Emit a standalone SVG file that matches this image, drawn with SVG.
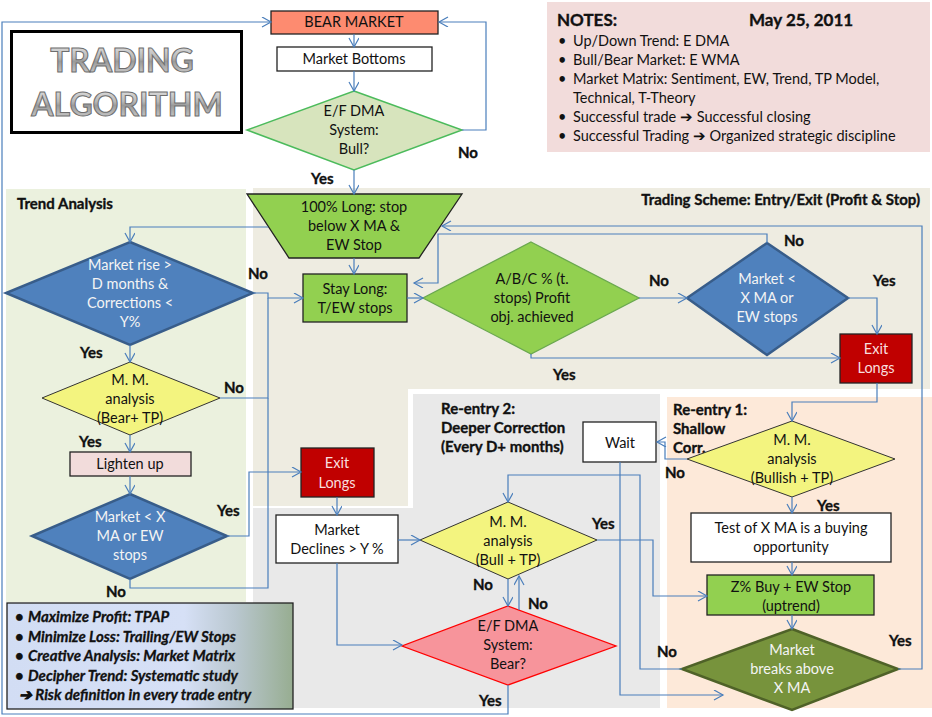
<svg xmlns="http://www.w3.org/2000/svg" width="932" height="717" viewBox="0 0 932 717">
<defs>
<marker id="arr" markerUnits="userSpaceOnUse" markerWidth="12" markerHeight="12" refX="10" refY="5" orient="auto">
<path d="M1,0 L10,5 L1,10" fill="none" stroke="#4a7ebb" stroke-width="1.2"/>
</marker>
<linearGradient id="boxg" x1="0" y1="0" x2="1" y2="0">
<stop offset="0" stop-color="#d2ddf4"/>
<stop offset="0.62" stop-color="#d6e0f6"/>
<stop offset="0.8" stop-color="#b9c7cf"/>
<stop offset="1" stop-color="#97ad91"/>
</linearGradient>
<linearGradient id="metal" x1="0" y1="0" x2="0" y2="1">
<stop offset="0" stop-color="#f0f0f0"/>
<stop offset="0.45" stop-color="#b8b8b8"/>
<stop offset="0.55" stop-color="#9a9a9a"/>
<stop offset="1" stop-color="#dcdcdc"/>
</linearGradient>
<style>
text{font-family:Lato,"Liberation Sans",sans-serif;font-size:14.5px;fill:#111}
.c{text-anchor:middle}
.b{font-weight:bold;font-size:15px;stroke:#111;stroke-width:0.35}
.w{fill:#f4f4f4}
.pw{fill:#f8dede}
.bi{font-weight:bold;font-style:italic;font-size:15px;stroke:#111;stroke-width:0.3}
.box{stroke:#222;stroke-width:1.3}
.white{fill:#fff}
.grn{fill:#92d050}
.blue{fill:#4f81bd;stroke:#385d8a;stroke-width:2.5}
.yel{fill:#f3f47f;stroke:#333;stroke-width:1}
.conn path{fill:none;stroke:#4a7ebb;stroke-width:1.2}
.conn .a{marker-end:url(#arr)}
</style>
</defs>

<g id="panels">
<rect x="6" y="189" width="240" height="413" fill="#ebf1de"/>
<path d="M253,188 H930 V389 H408 V506 H253 Z" fill="#eeece1"/>
<path d="M253,508 H413 V394 H660 V708 H253 Z" fill="#e9e9e9"/>
<rect x="667" y="397" width="265" height="311" fill="#fde9d9"/>
</g>

<g id="title">
<rect x="11.5" y="31.5" width="230" height="101" fill="#fff" stroke="#000" stroke-width="3"/>
<text x="122" y="72" class="c" style="font-size:32px;font-weight:bold;fill:url(#metal);stroke:#6e6e6e;stroke-width:1">TRADING</text>
<text x="127" y="116" class="c" style="font-size:32px;font-weight:bold;fill:url(#metal);stroke:#6e6e6e;stroke-width:1">ALGORITHM</text>
</g>

<g id="notes">
<rect x="547" y="2" width="383" height="150" fill="#f2dcdb"/>
<text x="557" y="26" style="font-weight:bold;font-size:17px;stroke:#111;stroke-width:0.35">NOTES:</text>
<text x="749" y="26" style="font-weight:bold;font-size:17px;stroke:#111;stroke-width:0.35">May 25, 2011</text>
<text x="558" y="46">•</text><text x="573" y="46">Up/Down Trend: E DMA</text>
<text x="558" y="65">•</text><text x="573" y="65">Bull/Bear Market: E WMA</text>
<text x="558" y="84">•</text><text x="573" y="84">Market Matrix: Sentiment, EW, Trend, TP Model,</text>
<text x="573" y="103">Technical, T-Theory</text>
<text x="558" y="122">•</text><text x="573" y="122">Successful trade ➔ Successful  closing</text>
<text x="558" y="141">•</text><text x="573" y="141">Successful Trading ➔ Organized strategic discipline</text>
</g>

<g id="panel-labels">
<text x="17" y="209" class="b">Trend Analysis</text>
<text x="920" y="205" class="b" style="text-anchor:end">Trading Scheme: Entry/Exit (Profit &amp; Stop)</text>
<text x="441" y="414" class="b">Re-entry 2:</text>
<text x="441" y="433" class="b">Deeper Correction</text>
<text x="441" y="452" class="b">(Every D+ months)</text>
<text x="673" y="415" class="b">Re-entry 1:</text>
<text x="673" y="434" class="b">Shallow</text>
<text x="673" y="453" class="b">Corr.</text>
</g>

<g id="bear-market">
<rect x="271" y="11" width="167" height="23" fill="#fd8b70" class="box"/>
<text x="354" y="27" class="c">BEAR MARKET</text>
</g>
<g id="market-bottoms">
<rect x="277" y="47" width="155" height="24" class="box white"/>
<text x="354" y="64" class="c">Market Bottoms</text>
</g>
<g id="bull-decision">
<polygon points="354,91 462,130 354,170 247,130" fill="#d7e4bd" stroke="#4cbb5c" stroke-width="1.5"/>
<text x="354" y="116" class="c">E/F DMA</text>
<text x="354" y="135" class="c">System:</text>
<text x="354" y="154" class="c">Bull?</text>
</g>
<g id="long-100">
<polygon points="247,194 462,194 419,258 289,258" class="grn box"/>
<text x="354" y="212" class="c">100% Long: stop</text>
<text x="354" y="231" class="c">below X MA &amp;</text>
<text x="354" y="250" class="c">EW Stop</text>
</g>
<g id="stay-long">
<rect x="303" y="274" width="104" height="48" class="grn box"/>
<text x="355" y="294" class="c">Stay Long:</text>
<text x="355" y="313" class="c">T/EW stops</text>
</g>
<g id="profit-decision">
<polygon points="531,242 639,298 531,354 423,298" fill="#92d050" stroke="#6aa84f" stroke-width="1.3"/>
<text x="532" y="284" class="c">A/B/C % (t.</text>
<text x="532" y="303" class="c">stops) Profit</text>
<text x="532" y="322" class="c">obj. achieved</text>
</g>
<g id="market-xma-right">
<polygon points="767,243 848,298 767,355 687,298" class="blue"/>
<text x="767" y="284" class="c w">Market &lt;</text>
<text x="767" y="303" class="c w">X MA or</text>
<text x="767" y="322" class="c w">EW stops</text>
</g>
<g id="exit-longs-right">
<rect x="840" y="334" width="72" height="49" fill="#c00000" class="box"/>
<text x="876" y="354" class="c pw">Exit</text>
<text x="876" y="373" class="c pw">Longs</text>
</g>

<g id="market-rise">
<polygon points="130,242 253,293 130,345 6,293" class="blue"/>
<text x="130" y="270" class="c w">Market rise &gt;</text>
<text x="130" y="289" class="c w">D months &amp;</text>
<text x="130" y="308" class="c w">Corrections &lt;</text>
<text x="130" y="327" class="c w">Y%</text>
</g>
<g id="mm-bear">
<polygon points="130,362 220,398 130,435 42,398" class="yel"/>
<text x="130" y="385" class="c">M. M.</text>
<text x="130" y="404" class="c">analysis</text>
<text x="130" y="423" class="c">(Bear+ TP)</text>
</g>
<g id="lighten-up">
<rect x="70" y="452" width="121" height="24" fill="#f2dcdb" class="box"/>
<text x="130" y="469" class="c">Lighten up</text>
</g>
<g id="market-xma-left">
<polygon points="130,494 227,536 130,579 32,536" class="blue"/>
<text x="130" y="522" class="c w">Market &lt; X</text>
<text x="130" y="541" class="c w">MA or EW</text>
<text x="130" y="560" class="c w">stops</text>
</g>
<g id="principles">
<rect x="7" y="603" width="286" height="106" fill="url(#boxg)" class="box"/>
<text x="15" y="622" class="bi">•</text><text x="28" y="622" class="bi">Maximize Profit: TPAP</text>
<text x="15" y="642" class="bi">•</text><text x="28" y="642" class="bi">Minimize Loss: Trailing/EW  Stops</text>
<text x="15" y="661" class="bi">•</text><text x="28" y="661" class="bi">Creative Analysis: Market Matrix</text>
<text x="15" y="681" class="bi">•</text><text x="28" y="681" class="bi">Decipher Trend: Systematic study</text>
<text x="19" y="700" class="bi">➔ Risk definition in every trade entry</text>
</g>

<g id="exit-longs-left">
<rect x="301" y="448" width="73" height="49" fill="#c00000" class="box"/>
<text x="337" y="468" class="c pw">Exit</text>
<text x="337" y="488" class="c pw">Longs</text>
</g>
<g id="market-declines">
<rect x="276" y="515" width="122" height="48" class="box white"/>
<text x="337" y="535" class="c">Market</text>
<text x="337" y="554" class="c">Declines &gt; Y %</text>
</g>
<g id="mm-bull">
<polygon points="508,502 597,540 508,579 420,540" class="yel"/>
<text x="508" y="527" class="c">M. M.</text>
<text x="508" y="546" class="c">analysis</text>
<text x="508" y="565" class="c">(Bull + TP)</text>
</g>
<g id="bear-decision">
<polygon points="508,606 616,646 508,685 402,646" fill="#f7949b" stroke="#ff0000" stroke-width="1.3"/>
<text x="508" y="631" class="c">E/F DMA</text>
<text x="508" y="650" class="c">System:</text>
<text x="508" y="669" class="c">Bear?</text>
</g>
<g id="wait">
<rect x="583" y="422" width="73" height="40" class="box white"/>
<text x="620" y="448" class="c">Wait</text>
</g>

<g id="mm-bullish">
<polygon points="792,421 895,459 792,497 687,459" class="yel"/>
<text x="792" y="445" class="c">M. M.</text>
<text x="792" y="464" class="c">analysis</text>
<text x="792" y="483" class="c">(Bullish + TP)</text>
</g>
<g id="test-xma">
<rect x="691" y="513" width="200" height="49" class="box white"/>
<text x="791" y="533" class="c">Test of X MA is a buying</text>
<text x="791" y="552" class="c">opportunity</text>
</g>
<g id="z-buy">
<rect x="707" y="575" width="167" height="40" class="grn box"/>
<text x="791" y="592" class="c">Z% Buy + EW Stop</text>
<text x="791" y="611" class="c">(uptrend)</text>
</g>
<g id="market-breaks">
<polygon points="792,629 898,669 792,710 682,669" fill="#77933c" stroke="#4f6228" stroke-width="2.5"/>
<text x="792" y="655" class="c w">Market</text>
<text x="792" y="674" class="c w">breaks above</text>
<text x="792" y="693" class="c w">X MA</text>
</g>

<g id="connectors" class="conn">
<path class="a" d="M354,34 V47"/>
<path class="a" d="M354,71 V91"/>
<path class="a" d="M462,130 H486 V22 H439"/>
<path class="a" d="M354,170 V194"/>
<path class="a" d="M354,258 V274"/>
<path class="a" d="M268,227 H130 V242"/>
<path class="a" d="M253,293 H268 V298 H303"/>
<path d="M220,398 H268 V298"/>
<path d="M130,579 V588 H268 V398"/>
<path class="a" d="M130,345 V362"/>
<path class="a" d="M130,435 V452"/>
<path class="a" d="M130,476 V494"/>
<path class="a" d="M227,536 H249 V472 H301"/>
<path class="a" d="M337,497 V515"/>
<path class="a" d="M407,298 H423"/>
<path class="a" d="M639,298 H687"/>
<path class="a" d="M531,354 V358 H840"/>
<path class="a" d="M767,243 V234 H438 V283 H414"/>
<path class="a" d="M848,298 H877 V334"/>
<path class="a" d="M877,383 V402 H792 V421"/>
<path class="a" d="M687,459 H665 V442 H657"/>
<path class="a" d="M792,497 V513"/>
<path class="a" d="M792,562 V575"/>
<path class="a" d="M792,615 V629"/>
<path class="a" d="M898,669 H922 V226 H442"/>
<path class="a" d="M682,669 H640 V475 H508 V502"/>
<path class="a" d="M620,462 V695 H723"/>
<path class="a" d="M398,540 H420"/>
<path class="a" d="M337,563 V645 H402"/>
<path class="a" d="M508,579 V606"/>
<path class="a" d="M519,610 V576"/>
<path class="a" d="M597,540 H653 V596 H707"/>
<path class="a" d="M508,685 V714 H2 V22 H271"/>
</g>

<g id="connector-labels">
<text x="458" y="158" class="b">No</text>
<text x="311" y="184" class="b">Yes</text>
<text x="248" y="279" class="b">No</text>
<text x="80" y="358" class="b">Yes</text>
<text x="224" y="393" class="b">No</text>
<text x="79" y="447" class="b">Yes</text>
<text x="217" y="516" class="b">Yes</text>
<text x="106" y="597" class="b">No</text>
<text x="649" y="286" class="b">No</text>
<text x="553" y="380" class="b">Yes</text>
<text x="784" y="246" class="b">No</text>
<text x="873" y="286" class="b">Yes</text>
<text x="592" y="529" class="b">Yes</text>
<text x="473" y="590" class="b">No</text>
<text x="528" y="609" class="b">No</text>
<text x="479" y="706" class="b">Yes</text>
<text x="665" y="478" class="b">No</text>
<text x="817" y="511" class="b">Yes</text>
<text x="657" y="657" class="b">No</text>
<text x="889" y="646" class="b">Yes</text>
</g>
</svg>
